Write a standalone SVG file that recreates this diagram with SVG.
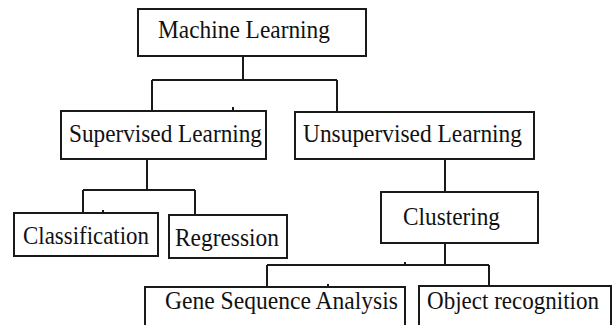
<svg xmlns="http://www.w3.org/2000/svg" width="612" height="325" viewBox="0 0 612 325">
<style>
.box{fill:#fff;stroke:#1a1a1a;stroke-width:2}
.ln{fill:none;stroke:#1a1a1a;stroke-width:2}
</style>
<rect width="612" height="325" fill="#fff"/>
<g id="connectors">
<path class="ln" d="M243 56V80M152 80H337M152 80V110M337 80V112"/>
<path class="ln" d="M147 159V190M83 190H195M83 190V213M195 190V215"/>
<path class="ln" d="M445 159V192"/>
<path class="ln" d="M445 243V265M267 265H489M267 265V287M489 265V286"/>
<path class="ln" stroke-width="1.5" d="M233 107V111M103 210V213M405 262V265M328 284V287"/>
</g>
<g font-family="Liberation Serif, Tinos, Times New Roman, DejaVu Serif, serif" font-size="25" fill="#111">
<g id="machine-learning">
<rect class="box" x="138" y="9" width="228" height="47"/>
<text x="158" y="38" textLength="172" lengthAdjust="spacingAndGlyphs">Machine Learning</text>
</g>
<g id="supervised">
<rect class="box" x="61" y="111" width="205" height="48"/>
<text x="69" y="142" textLength="193" lengthAdjust="spacingAndGlyphs">Supervised Learning</text>
</g>
<g id="unsupervised">
<rect class="box" x="295" y="112" width="239" height="47"/>
<text x="303" y="142" textLength="219" lengthAdjust="spacingAndGlyphs">Unsupervised Learning</text>
</g>
<g id="classification">
<rect class="box" x="14" y="213" width="144" height="43"/>
<text x="23" y="244" textLength="126" lengthAdjust="spacingAndGlyphs">Classification</text>
</g>
<g id="regression">
<rect class="box" x="169" y="215" width="118" height="43"/>
<text x="175" y="246" textLength="104" lengthAdjust="spacingAndGlyphs">Regression</text>
</g>
<g id="clustering">
<rect class="box" x="381" y="192" width="157" height="51"/>
<text x="403" y="225" textLength="97" lengthAdjust="spacingAndGlyphs">Clustering</text>
</g>
<g id="gene-sequence">
<rect class="box" x="145" y="287" width="260" height="50"/>
<text x="165" y="309" textLength="233" lengthAdjust="spacingAndGlyphs">Gene Sequence  Analysis</text>
</g>
<g id="object-recognition">
<rect class="box" x="419" y="286" width="192" height="50"/>
<text x="427" y="309" textLength="172" lengthAdjust="spacingAndGlyphs">Object recognition</text>
</g>
</g>
</svg>
